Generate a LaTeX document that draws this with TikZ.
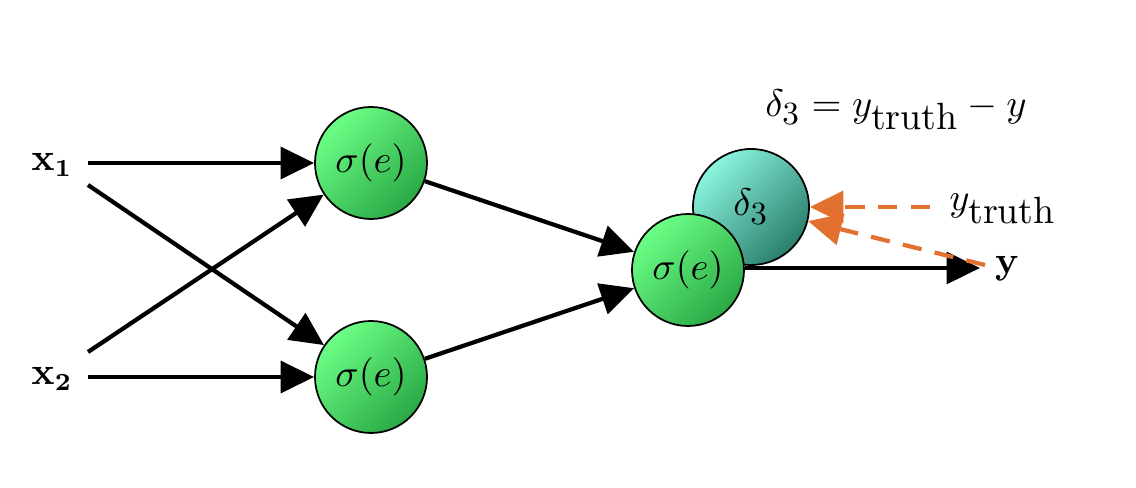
\documentclass[tikz,border=0pt]{standalone}
\usetikzlibrary{arrows.meta}
\definecolor{glight}{HTML}{6CFF86}
\definecolor{gdark}{HTML}{2AA845}
\definecolor{tlight}{HTML}{8AF5DE}
\definecolor{tdark}{HTML}{2A7E6C}
\definecolor{orng}{HTML}{E2702F}
\newcommand\subtruth{\hbox{\fontsize{10.8}{12}\selectfont truth}}
\newcommand\subthree{\hbox{\fontsize{9.2}{11}\selectfont 3}}
\begin{document}
\begin{tikzpicture}[x=1cm,y=1cm,font=\fontsize{10.5}{12}\selectfont,
  neuron/.style={circle,draw=black,line width=0.5pt,minimum size=1.12cm,inner sep=0pt,
     top color=glight,bottom color=gdark,shading angle=45},
  errnode/.style={circle,draw=black,line width=0.5pt,minimum size=1.16cm,inner sep=0pt,
     top color=tlight,bottom color=tdark,shading angle=45},
  conn/.style={line width=1.2pt,-{Triangle[length=9.5pt,width=9pt]}},
  errconn/.style={line width=1.2pt,orng,dash pattern=on 5.5pt off 3.8pt,-{Triangle[length=9.5pt,width=9pt]}},
  lab/.style={inner sep=0pt}]
\path[use as bounding box] (0,0) rectangle (11.36,4.88);
% nodes (y = (488 - ypx)/100)
\node[neuron] (h1) at (3.71,3.25) {$\sigma(e)$};
\node[neuron] (h2) at (3.71,1.11) {$\sigma(e)$};
\node[errnode] (delta) at (7.51,2.81) {$\delta_{\subthree}$};
\node[neuron] (out) at (6.88,2.18) {$\sigma(e)$};
\node[lab] (x1) at (0.52,3.23) {$\mathbf{x_1}$};
\node[lab] (x2) at (0.52,1.09) {$\mathbf{x_2}$};
\node[lab] (y) at (10.07,2.19) {$\mathbf{y}$};
\node[lab] (yt) at (10.03,2.79) {$y_{\subtruth}$};
\node[lab] (eq) at (8.96,3.78) {$\delta_{\subthree} = y_{\subtruth} - y$};
% connector end points
\coordinate (a1) at (0.88,3.25);
\coordinate (c1) at (0.88,3.03);
\coordinate (c2) at (0.88,1.36);
\coordinate (a2) at (0.88,1.11);
\coordinate (yo) at (9.80,2.20);
\coordinate (ytS) at (9.30,2.81);
\coordinate (yS) at (9.85,2.23);
% connectors
\draw[conn] (a1) -- (h1);
\draw[conn] (c1) -- (h2);
\draw[conn] (c2) -- (h1);
\draw[conn] (a2) -- (h2);
\draw[conn] (h1) -- (out);
\draw[conn] (h2) -- (out);
\draw[conn] (out.east |- yo) -- (yo);
\draw[errconn] (ytS) -- (delta.east);
\draw[errconn] (yS) -- (delta);
\end{tikzpicture}
\end{document}
